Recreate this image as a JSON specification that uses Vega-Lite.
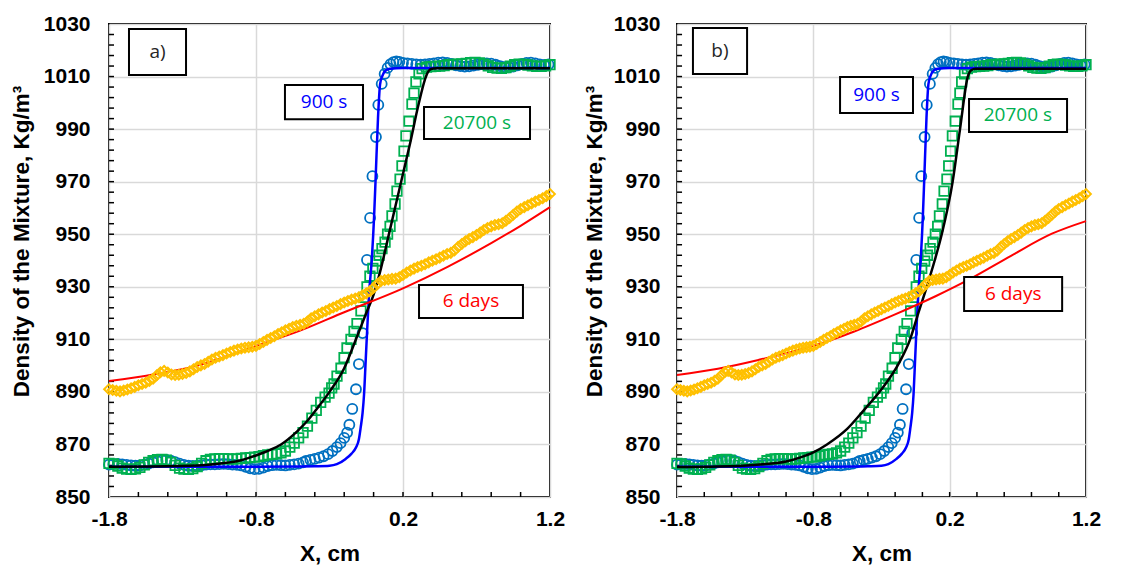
{
  "$schema": "https://vega.github.io/schema/vega-lite/v6.json",
  "padding": {"left": 9, "top": 12, "right": 5, "bottom": 5},
  "spacing": 16,
  "config": {
    "font": "Liberation Sans",
    "view": {"stroke": "black", "strokeWidth": 2}
  },
  "datasets": {
    "xt": [{"x":-1.6,"y":850,"y2":851.9},{"x":-1.4,"y":850,"y2":851.9},{"x":-1.2,"y":850,"y2":851.9},{"x":-1.0,"y":850,"y2":851.9},{"x":-0.8,"y":850,"y2":851.9},{"x":-0.6,"y":850,"y2":851.9},{"x":-0.4,"y":850,"y2":851.9},{"x":-0.2,"y":850,"y2":851.9},{"x":0,"y":850,"y2":851.9},{"x":0.2,"y":850,"y2":851.9},{"x":0.4,"y":850,"y2":851.9},{"x":0.6,"y":850,"y2":851.9},{"x":0.8,"y":850,"y2":851.9},{"x":1.0,"y":850,"y2":851.9}],
    "ytA": [{"x":-1.8,"x2":-1.766,"y":854},{"x":-1.8,"x2":-1.766,"y":858},{"x":-1.8,"x2":-1.766,"y":862},{"x":-1.8,"x2":-1.766,"y":866},{"x":-1.8,"x2":-1.766,"y":870},{"x":-1.8,"x2":-1.766,"y":874},{"x":-1.8,"x2":-1.766,"y":878},{"x":-1.8,"x2":-1.766,"y":882},{"x":-1.8,"x2":-1.766,"y":886},{"x":-1.8,"x2":-1.766,"y":890},{"x":-1.8,"x2":-1.766,"y":894},{"x":-1.8,"x2":-1.766,"y":898},{"x":-1.8,"x2":-1.766,"y":902},{"x":-1.8,"x2":-1.766,"y":906},{"x":-1.8,"x2":-1.766,"y":910},{"x":-1.8,"x2":-1.766,"y":914},{"x":-1.8,"x2":-1.766,"y":918},{"x":-1.8,"x2":-1.766,"y":922},{"x":-1.8,"x2":-1.766,"y":926},{"x":-1.8,"x2":-1.766,"y":930},{"x":-1.8,"x2":-1.766,"y":934},{"x":-1.8,"x2":-1.766,"y":938},{"x":-1.8,"x2":-1.766,"y":942},{"x":-1.8,"x2":-1.766,"y":946},{"x":-1.8,"x2":-1.766,"y":950},{"x":-1.8,"x2":-1.766,"y":954},{"x":-1.8,"x2":-1.766,"y":958},{"x":-1.8,"x2":-1.766,"y":962},{"x":-1.8,"x2":-1.766,"y":966},{"x":-1.8,"x2":-1.766,"y":970},{"x":-1.8,"x2":-1.766,"y":974},{"x":-1.8,"x2":-1.766,"y":978},{"x":-1.8,"x2":-1.766,"y":982},{"x":-1.8,"x2":-1.766,"y":986},{"x":-1.8,"x2":-1.766,"y":990},{"x":-1.8,"x2":-1.766,"y":994},{"x":-1.8,"x2":-1.766,"y":998},{"x":-1.8,"x2":-1.766,"y":1002},{"x":-1.8,"x2":-1.766,"y":1006},{"x":-1.8,"x2":-1.766,"y":1010},{"x":-1.8,"x2":-1.766,"y":1014},{"x":-1.8,"x2":-1.766,"y":1018},{"x":-1.8,"x2":-1.766,"y":1022},{"x":-1.8,"x2":-1.766,"y":1026}],
    "ytB": [{"x":-1.8,"x2":-1.763,"y":854},{"x":-1.8,"x2":-1.763,"y":858},{"x":-1.8,"x2":-1.763,"y":862},{"x":-1.8,"x2":-1.763,"y":866},{"x":-1.8,"x2":-1.763,"y":870},{"x":-1.8,"x2":-1.763,"y":874},{"x":-1.8,"x2":-1.763,"y":878},{"x":-1.8,"x2":-1.763,"y":882},{"x":-1.8,"x2":-1.763,"y":886},{"x":-1.8,"x2":-1.763,"y":890},{"x":-1.8,"x2":-1.763,"y":894},{"x":-1.8,"x2":-1.763,"y":898},{"x":-1.8,"x2":-1.763,"y":902},{"x":-1.8,"x2":-1.763,"y":906},{"x":-1.8,"x2":-1.763,"y":910},{"x":-1.8,"x2":-1.763,"y":914},{"x":-1.8,"x2":-1.763,"y":918},{"x":-1.8,"x2":-1.763,"y":922},{"x":-1.8,"x2":-1.763,"y":926},{"x":-1.8,"x2":-1.763,"y":930},{"x":-1.8,"x2":-1.763,"y":934},{"x":-1.8,"x2":-1.763,"y":938},{"x":-1.8,"x2":-1.763,"y":942},{"x":-1.8,"x2":-1.763,"y":946},{"x":-1.8,"x2":-1.763,"y":950},{"x":-1.8,"x2":-1.763,"y":954},{"x":-1.8,"x2":-1.763,"y":958},{"x":-1.8,"x2":-1.763,"y":962},{"x":-1.8,"x2":-1.763,"y":966},{"x":-1.8,"x2":-1.763,"y":970},{"x":-1.8,"x2":-1.763,"y":974},{"x":-1.8,"x2":-1.763,"y":978},{"x":-1.8,"x2":-1.763,"y":982},{"x":-1.8,"x2":-1.763,"y":986},{"x":-1.8,"x2":-1.763,"y":990},{"x":-1.8,"x2":-1.763,"y":994},{"x":-1.8,"x2":-1.763,"y":998},{"x":-1.8,"x2":-1.763,"y":1002},{"x":-1.8,"x2":-1.763,"y":1006},{"x":-1.8,"x2":-1.763,"y":1010},{"x":-1.8,"x2":-1.763,"y":1014},{"x":-1.8,"x2":-1.763,"y":1018},{"x":-1.8,"x2":-1.763,"y":1022},{"x":-1.8,"x2":-1.763,"y":1026}],
    "circ": [
      {"x":-1.8,"y":862.3},{"x":-1.77,"y":862.5},{"x":-1.74,"y":862.6},{"x":-1.71,"y":862.4},{"x":-1.68,"y":862.2},{"x":-1.65,"y":862.0},{"x":-1.62,"y":861.9},{"x":-1.59,"y":862.0},{"x":-1.56,"y":862.3},{"x":-1.53,"y":862.7},{"x":-1.5,"y":863.2},{"x":-1.47,"y":863.6},{"x":-1.44,"y":864.0},{"x":-1.41,"y":864.1},{"x":-1.38,"y":863.8},{"x":-1.35,"y":863.3},{"x":-1.32,"y":862.7},{"x":-1.29,"y":862.2},{"x":-1.26,"y":861.9},{"x":-1.23,"y":861.8},{"x":-1.2,"y":861.9},{"x":-1.17,"y":862.1},{"x":-1.14,"y":862.3},{"x":-1.11,"y":862.4},{"x":-1.08,"y":862.4},{"x":-1.05,"y":862.5},{"x":-1.02,"y":862.6},{"x":-0.99,"y":862.5},{"x":-0.96,"y":862.3},{"x":-0.93,"y":862.2},{"x":-0.9,"y":862.0},{"x":-0.87,"y":861.5},{"x":-0.84,"y":860.9},{"x":-0.81,"y":860.6},{"x":-0.78,"y":860.7},{"x":-0.75,"y":861.2},{"x":-0.72,"y":861.8},{"x":-0.69,"y":862.1},{"x":-0.66,"y":862.2},{"x":-0.63,"y":862.1},{"x":-0.6,"y":862.0},{"x":-0.57,"y":862.2},{"x":-0.54,"y":862.4},{"x":-0.51,"y":862.7},{"x":-0.48,"y":863.2},{"x":-0.46,"y":863.7},{"x":-0.43,"y":864.1},{"x":-0.4,"y":864.5},{"x":-0.37,"y":865.0},{"x":-0.34,"y":865.5},{"x":-0.31,"y":866.3},{"x":-0.28,"y":867.5},{"x":-0.25,"y":869.0},{"x":-0.225,"y":870.5},{"x":-0.2,"y":872.5},{"x":-0.18,"y":874.5},{"x":-0.165,"y":877.5},{"x":-0.145,"y":883.5},{"x":-0.12,"y":891.0},{"x":-0.1,"y":900.6},{"x":-0.075,"y":912.4},{"x":-0.045,"y":940.2},{"x":-0.024,"y":956.2},{"x":-0.008,"y":972.1},{"x":0.016,"y":987.0},{"x":0.032,"y":999.2},{"x":0.055,"y":1007.2},{"x":0.075,"y":1011.0},{"x":0.095,"y":1013.3},{"x":0.115,"y":1014.7},{"x":0.135,"y":1015.5},{"x":0.155,"y":1015.8},{"x":0.175,"y":1015.6},{"x":0.2,"y":1015.2},{"x":0.23,"y":1015.0},{"x":0.26,"y":1014.8},{"x":0.29,"y":1014.6},{"x":0.32,"y":1014.5},{"x":0.35,"y":1014.6},{"x":0.38,"y":1014.8},{"x":0.41,"y":1015.0},{"x":0.44,"y":1015.3},{"x":0.47,"y":1015.4},{"x":0.5,"y":1015.2},{"x":0.53,"y":1014.8},{"x":0.56,"y":1014.3},{"x":0.59,"y":1014.0},{"x":0.62,"y":1013.8},{"x":0.65,"y":1013.9},{"x":0.68,"y":1014.2},{"x":0.71,"y":1014.5},{"x":0.74,"y":1014.8},{"x":0.77,"y":1015.0},{"x":0.8,"y":1014.9},{"x":0.83,"y":1014.5},{"x":0.86,"y":1014.0},{"x":0.89,"y":1013.6},{"x":0.92,"y":1013.5},{"x":0.95,"y":1013.8},{"x":0.98,"y":1014.3},{"x":1.01,"y":1014.8},{"x":1.04,"y":1015.2},{"x":1.07,"y":1015.3},{"x":1.1,"y":1015.0},{"x":1.13,"y":1014.6},{"x":1.16,"y":1014.4},{"x":1.19,"y":1014.6}
    ],
    "sq": [
      {"x":-1.8,"y":862.8},{"x":-1.77,"y":862.6},{"x":-1.74,"y":861.8},{"x":-1.71,"y":861.0},{"x":-1.68,"y":860.6},{"x":-1.65,"y":860.5},{"x":-1.62,"y":860.7},{"x":-1.59,"y":861.3},{"x":-1.56,"y":862.2},{"x":-1.53,"y":863.2},{"x":-1.5,"y":863.8},{"x":-1.47,"y":864.2},{"x":-1.44,"y":864.3},{"x":-1.41,"y":864.0},{"x":-1.38,"y":863.2},{"x":-1.35,"y":862.0},{"x":-1.32,"y":861.0},{"x":-1.29,"y":860.6},{"x":-1.26,"y":860.5},{"x":-1.23,"y":860.8},{"x":-1.2,"y":861.6},{"x":-1.17,"y":862.8},{"x":-1.14,"y":863.8},{"x":-1.11,"y":864.3},{"x":-1.08,"y":864.5},{"x":-1.05,"y":864.6},{"x":-1.02,"y":864.6},{"x":-0.99,"y":864.5},{"x":-0.96,"y":864.4},{"x":-0.93,"y":864.5},{"x":-0.9,"y":864.7},{"x":-0.87,"y":864.9},{"x":-0.84,"y":865.0},{"x":-0.81,"y":865.2},{"x":-0.78,"y":865.4},{"x":-0.75,"y":865.7},{"x":-0.72,"y":866.0},{"x":-0.69,"y":866.2},{"x":-0.66,"y":866.4},{"x":-0.63,"y":866.8},{"x":-0.6,"y":867.5},{"x":-0.57,"y":869.0},{"x":-0.54,"y":870.5},{"x":-0.51,"y":872.5},{"x":-0.48,"y":874.5},{"x":-0.45,"y":877.0},{"x":-0.42,"y":880.0},{"x":-0.39,"y":883.0},{"x":-0.36,"y":886.0},{"x":-0.33,"y":888.0},{"x":-0.303,"y":889.5},{"x":-0.285,"y":891.5},{"x":-0.269,"y":893.0},{"x":-0.249,"y":896.0},{"x":-0.222,"y":899.0},{"x":-0.201,"y":903.0},{"x":-0.181,"y":906.7},{"x":-0.154,"y":910.0},{"x":-0.133,"y":913.0},{"x":-0.113,"y":916.0},{"x":-0.086,"y":920.8},{"x":-0.065,"y":926.0},{"x":-0.045,"y":930.0},{"x":-0.025,"y":934.0},{"x":-0.005,"y":937.0},{"x":0.017,"y":939.8},{"x":0.037,"y":942.0},{"x":0.057,"y":944.5},{"x":0.078,"y":947.0},{"x":0.095,"y":950.0},{"x":0.112,"y":953.0},{"x":0.125,"y":957.0},{"x":0.146,"y":961.5},{"x":0.159,"y":966.4},{"x":0.18,"y":971.0},{"x":0.193,"y":976.0},{"x":0.207,"y":981.6},{"x":0.22,"y":987.4},{"x":0.241,"y":993.0},{"x":0.261,"y":999.5},{"x":0.275,"y":1003.7},{"x":0.288,"y":1008.0},{"x":0.309,"y":1011.0},{"x":0.33,"y":1013.0},{"x":0.36,"y":1013.6},{"x":0.39,"y":1013.8},{"x":0.42,"y":1013.9},{"x":0.45,"y":1014.0},{"x":0.48,"y":1014.2},{"x":0.51,"y":1014.5},{"x":0.54,"y":1014.6},{"x":0.57,"y":1014.7},{"x":0.6,"y":1014.8},{"x":0.63,"y":1015.0},{"x":0.66,"y":1015.3},{"x":0.69,"y":1015.4},{"x":0.72,"y":1015.2},{"x":0.75,"y":1014.7},{"x":0.78,"y":1014.1},{"x":0.81,"y":1013.5},{"x":0.84,"y":1013.2},{"x":0.87,"y":1013.1},{"x":0.9,"y":1013.4},{"x":0.93,"y":1014.0},{"x":0.96,"y":1014.5},{"x":0.99,"y":1014.7},{"x":1.02,"y":1014.6},{"x":1.05,"y":1014.4},{"x":1.08,"y":1014.1},{"x":1.11,"y":1013.9},{"x":1.14,"y":1013.9},{"x":1.17,"y":1014.1},{"x":1.2,"y":1014.5}
    ],
    "dia": [
      {"x":-1.8,"y":891.0},{"x":-1.775,"y":890.7},{"x":-1.75,"y":890.4},{"x":-1.725,"y":890.2},{"x":-1.7,"y":890.5},{"x":-1.675,"y":890.9},{"x":-1.65,"y":891.4},{"x":-1.625,"y":891.9},{"x":-1.6,"y":892.5},{"x":-1.575,"y":893.0},{"x":-1.55,"y":893.5},{"x":-1.525,"y":894.2},{"x":-1.5,"y":895.0},{"x":-1.475,"y":896.3},{"x":-1.45,"y":897.5},{"x":-1.425,"y":898.0},{"x":-1.4,"y":897.4},{"x":-1.375,"y":896.6},{"x":-1.35,"y":896.4},{"x":-1.325,"y":896.5},{"x":-1.3,"y":896.8},{"x":-1.275,"y":897.2},{"x":-1.25,"y":897.8},{"x":-1.225,"y":898.6},{"x":-1.2,"y":899.5},{"x":-1.175,"y":900.1},{"x":-1.15,"y":900.6},{"x":-1.125,"y":901.5},{"x":-1.1,"y":902.3},{"x":-1.075,"y":903.0},{"x":-1.05,"y":903.5},{"x":-1.025,"y":904.0},{"x":-1.0,"y":904.6},{"x":-0.975,"y":905.2},{"x":-0.95,"y":905.7},{"x":-0.925,"y":906.1},{"x":-0.9,"y":906.5},{"x":-0.875,"y":906.8},{"x":-0.85,"y":907.0},{"x":-0.825,"y":907.2},{"x":-0.8,"y":907.5},{"x":-0.775,"y":908.2},{"x":-0.75,"y":909.0},{"x":-0.725,"y":909.8},{"x":-0.7,"y":910.5},{"x":-0.675,"y":911.2},{"x":-0.65,"y":912.0},{"x":-0.625,"y":912.7},{"x":-0.6,"y":913.4},{"x":-0.575,"y":914.0},{"x":-0.55,"y":914.7},{"x":-0.525,"y":915.2},{"x":-0.5,"y":915.5},{"x":-0.475,"y":915.9},{"x":-0.45,"y":916.8},{"x":-0.425,"y":918.0},{"x":-0.4,"y":918.8},{"x":-0.375,"y":919.5},{"x":-0.35,"y":920.2},{"x":-0.325,"y":920.8},{"x":-0.3,"y":921.5},{"x":-0.275,"y":922.1},{"x":-0.25,"y":922.7},{"x":-0.225,"y":923.4},{"x":-0.2,"y":924.0},{"x":-0.175,"y":924.6},{"x":-0.15,"y":925.1},{"x":-0.125,"y":925.5},{"x":-0.1,"y":926.0},{"x":-0.075,"y":926.8},{"x":-0.05,"y":927.5},{"x":-0.025,"y":928.3},{"x":0.0,"y":929.6},{"x":0.025,"y":931.0},{"x":0.05,"y":932.2},{"x":0.075,"y":932.6},{"x":0.1,"y":932.8},{"x":0.125,"y":933.0},{"x":0.15,"y":933.1},{"x":0.175,"y":933.6},{"x":0.2,"y":934.5},{"x":0.225,"y":935.4},{"x":0.25,"y":936.2},{"x":0.275,"y":936.9},{"x":0.3,"y":937.5},{"x":0.325,"y":938.0},{"x":0.35,"y":938.6},{"x":0.375,"y":939.3},{"x":0.4,"y":939.9},{"x":0.425,"y":940.5},{"x":0.45,"y":941.1},{"x":0.475,"y":941.8},{"x":0.5,"y":942.5},{"x":0.525,"y":942.9},{"x":0.55,"y":943.8},{"x":0.575,"y":945.2},{"x":0.6,"y":946.3},{"x":0.625,"y":947.3},{"x":0.65,"y":948.2},{"x":0.675,"y":948.9},{"x":0.7,"y":949.7},{"x":0.725,"y":950.6},{"x":0.75,"y":951.6},{"x":0.775,"y":952.4},{"x":0.8,"y":953.0},{"x":0.825,"y":953.5},{"x":0.85,"y":953.8},{"x":0.875,"y":954.2},{"x":0.9,"y":955.1},{"x":0.925,"y":956.2},{"x":0.95,"y":957.4},{"x":0.975,"y":958.6},{"x":1.0,"y":959.6},{"x":1.025,"y":960.3},{"x":1.05,"y":961.0},{"x":1.075,"y":961.7},{"x":1.1,"y":962.4},{"x":1.125,"y":963.0},{"x":1.15,"y":963.7},{"x":1.175,"y":964.5},{"x":1.2,"y":965.3}
    ],
    "blue": [
      {"x":-1.8,"y":861.5},{"x":-1.2,"y":861.5},{"x":-0.8,"y":861.5},{"x":-0.5,"y":861.6},{"x":-0.4,"y":861.7},{"x":-0.3,"y":861.9},{"x":-0.25,"y":862.5},{"x":-0.19,"y":864.5},{"x":-0.15,"y":866.5},{"x":-0.12,"y":868.8},{"x":-0.1,"y":872.0},{"x":-0.088,"y":876.4},{"x":-0.075,"y":882.0},{"x":-0.065,"y":889.0},{"x":-0.054,"y":901.7},{"x":-0.043,"y":914.4},{"x":-0.031,"y":927.1},{"x":-0.013,"y":939.8},{"x":0.003,"y":956.3},{"x":0.014,"y":971.5},{"x":0.03,"y":994.3},{"x":0.044,"y":1007.0},{"x":0.059,"y":1010.2},{"x":0.08,"y":1012.2},{"x":0.11,"y":1013.0},{"x":0.2,"y":1013.3},{"x":1.2,"y":1013.3}
    ],
    "blackA": [
      {"x":-1.8,"y":861.5},{"x":-1.5,"y":861.6},{"x":-1.2,"y":862.0},{"x":-1.0,"y":863.0},{"x":-0.9,"y":864.0},{"x":-0.8,"y":865.8},{"x":-0.7,"y":868.0},{"x":-0.63,"y":870.0},{"x":-0.52,"y":875.0},{"x":-0.45,"y":879.0},{"x":-0.38,"y":884.0},{"x":-0.3,"y":890.0},{"x":-0.2,"y":899.0},{"x":-0.12,"y":910.0},{"x":-0.05,"y":920.0},{"x":0.0,"y":927.0},{"x":0.05,"y":937.0},{"x":0.1,"y":949.0},{"x":0.15,"y":961.0},{"x":0.2,"y":973.0},{"x":0.25,"y":985.0},{"x":0.3,"y":998.0},{"x":0.33,"y":1005.0},{"x":0.35,"y":1009.0},{"x":0.37,"y":1011.8},{"x":0.39,"y":1012.9},{"x":0.43,"y":1013.2},{"x":1.2,"y":1013.2}
    ],
    "blackB": [
      {"x":-1.8,"y":861.4},{"x":-1.5,"y":861.6},{"x":-1.17,"y":862.5},{"x":-1.0,"y":863.5},{"x":-0.9,"y":865.0},{"x":-0.8,"y":867.0},{"x":-0.7,"y":870.0},{"x":-0.55,"y":876.0},{"x":-0.435,"y":882.7},{"x":-0.31,"y":890.3},{"x":-0.164,"y":901.7},{"x":-0.09,"y":910.0},{"x":-0.03,"y":920.0},{"x":0.032,"y":930.0},{"x":0.09,"y":940.0},{"x":0.142,"y":950.0},{"x":0.222,"y":970.0},{"x":0.276,"y":990.0},{"x":0.333,"y":1010.0},{"x":0.36,"y":1012.5},{"x":0.39,"y":1013.0},{"x":1.2,"y":1013.0}
    ],
    "redA": [
      {"x":-1.8,"y":894.1},{"x":-1.5,"y":896.6},{"x":-1.2,"y":900.0},{"x":-0.8,"y":907.5},{"x":-0.5,"y":913.3},{"x":-0.2,"y":920.3},{"x":0.2,"y":929.4},{"x":0.5,"y":937.5},{"x":0.8,"y":946.6},{"x":1.0,"y":953.2},{"x":1.2,"y":960.3}
    ],
    "redB": [
      {"x":-1.8,"y":896.4},{"x":-1.5,"y":898.8},{"x":-1.2,"y":902.2},{"x":-0.8,"y":907.5},{"x":-0.5,"y":913.0},{"x":-0.2,"y":919.5},{"x":0.1,"y":926.5},{"x":0.35,"y":933.0},{"x":0.65,"y":941.8},{"x":0.95,"y":950.2},{"x":1.2,"y":955.0}
    ],
    "boxA": [
      {"x":-1.664,"x2":-1.276,"y":1010.6,"y2":1028.1},
      {"x":-0.603,"x2":-0.072,"y":993.8,"y2":1006.8},
      {"x":0.343,"x2":1.064,"y":986.2,"y2":998.4},
      {"x":0.309,"x2":1.016,"y":918.1,"y2":930.7}
    ],
    "lblA": [
      {"x":-1.47,"y":1019.3,"label":"a)"},
      {"x":-0.337,"y":1000.3,"label":"900 s"},
      {"x":0.703,"y":992.3,"label":"20700 s"},
      {"x":0.662,"y":924.4,"label":"6 days"}
    ],
    "boxB": [
      {"x":-1.683,"x2":-1.286,"y":1011.0,"y2":1028.5},
      {"x":-0.604,"x2":-0.069,"y":996.1,"y2":1009.8},
      {"x":0.342,"x2":1.061,"y":988.9,"y2":1001.5},
      {"x":0.306,"x2":1.025,"y":920.8,"y2":933.7}
    ],
    "lblB": [
      {"x":-1.485,"y":1019.8,"label":"b)"},
      {"x":-0.337,"y":1003.0,"label":"900 s"},
      {"x":0.70,"y":995.2,"label":"20700 s"},
      {"x":0.666,"y":927.3,"label":"6 days"}
    ]
  },
  "hconcat": [
    {
      "width": 441,
      "height": 473,
      "encoding": {
        "x": {"field": "x", "type": "quantitative", "scale": {"domain": [-1.8, 1.2], "nice": false, "zero": false},
          "axis": {"title": "X, cm", "values": [-1.8, -0.8, 0.2, 1.2], "format": ".1f", "labelExpr": "replace(datum.label, '−', '-')",
            "grid": true, "gridColor": "#d9d9d9", "gridWidth": 1.5,
            "domain": false, "ticks": false, "labelFlush": false, "labelOverlap": false,
            "labelFont": "Liberation Sans", "labelFontSize": 21, "labelFontWeight": "bold", "labelColor": "black", "labelPadding": 11,
            "titleFont": "Liberation Sans", "titleFontSize": 22.5, "titleFontWeight": "bold", "titleColor": "black", "titlePadding": 13}},
        "y": {"field": "y", "type": "quantitative", "scale": {"domain": [850, 1030], "nice": false, "zero": false},
          "axis": {"title": "Density of the Mixture, Kg/m³", "format": "d", "values": [850, 870, 890, 910, 930, 950, 970, 990, 1010, 1030],
            "grid": true, "gridColor": "#d9d9d9", "gridWidth": 1.5,
            "domain": false, "ticks": false, "labelFlush": false, "labelOverlap": false,
            "labelFont": "Liberation Sans", "labelFontSize": 21, "labelFontWeight": "bold", "labelColor": "black", "labelPadding": 19,
            "titleFont": "Liberation Sans", "titleFontSize": 22.5, "titleFontWeight": "bold", "titleColor": "black", "titlePadding": 10, "titleY": 217}}
      },
      "layer": [
        {"data": {"name": "xt"}, "mark": {"type": "rule", "color": "black", "strokeWidth": 1.5}, "encoding": {"y2": {"field": "y2"}}},
        {"data": {"name": "ytA"}, "mark": {"type": "rule", "color": "black", "strokeWidth": 1.5}, "encoding": {"x2": {"field": "x2"}}},
        {"data": {"name": "circ"}, "mark": {"type": "point", "shape": "circle", "filled": false, "size": 100, "strokeWidth": 1.8, "color": "#0070C0", "opacity": 1}},
        {"data": {"name": "sq"}, "mark": {"type": "point", "shape": "square", "filled": false, "size": 90, "strokeWidth": 1.8, "color": "#00B050", "opacity": 1}},
        {"data": {"name": "blue"}, "mark": {"type": "line", "color": "#0000FF", "strokeWidth": 2.5, "interpolate": "monotone"}},
        {"data": {"name": "blackA"}, "mark": {"type": "line", "color": "black", "strokeWidth": 2.5, "interpolate": "monotone"}},
        {"data": {"name": "redA"}, "mark": {"type": "line", "color": "#FF0000", "strokeWidth": 2, "interpolate": "monotone"}},
        {"data": {"name": "dia"}, "mark": {"type": "point", "shape": "diamond", "filled": false, "size": 95, "strokeWidth": 2, "color": "#FFC000", "opacity": 1}},
        {"data": {"name": "boxA"}, "mark": {"type": "rect", "fill": "white", "stroke": "black", "strokeWidth": 2},
          "encoding": {"x2": {"field": "x2"}, "y2": {"field": "y2"}}},
        {"data": {"name": "lblA"}, "mark": {"type": "text", "font": "Open Sans", "fontSize": 19, "align": "center", "baseline": "middle"},
          "encoding": {
            "text": {"field": "label"},
            "color": {"field": "label", "type": "nominal", "scale": {"domain": ["a)", "b)", "900 s", "20700 s", "6 days"], "range": ["#262626", "#262626", "#0000FF", "#00B050", "#FF0000"]}, "legend": null}
          }}
      ]
    },
    {
      "width": 409,
      "height": 473,
      "encoding": {
        "x": {"field": "x", "type": "quantitative", "scale": {"domain": [-1.8, 1.2], "nice": false, "zero": false},
          "axis": {"title": "X, cm", "values": [-1.8, -0.8, 0.2, 1.2], "format": ".1f", "labelExpr": "replace(datum.label, '−', '-')",
            "grid": true, "gridColor": "#d9d9d9", "gridWidth": 1.5,
            "domain": false, "ticks": false, "labelFlush": false, "labelOverlap": false,
            "labelFont": "Liberation Sans", "labelFontSize": 21, "labelFontWeight": "bold", "labelColor": "black", "labelPadding": 11,
            "titleFont": "Liberation Sans", "titleFontSize": 22.5, "titleFontWeight": "bold", "titleColor": "black", "titlePadding": 13}},
        "y": {"field": "y", "type": "quantitative", "scale": {"domain": [850, 1030], "nice": false, "zero": false},
          "axis": {"title": "Density of the Mixture, Kg/m³", "format": "d", "values": [850, 870, 890, 910, 930, 950, 970, 990, 1010, 1030],
            "grid": true, "gridColor": "#d9d9d9", "gridWidth": 1.5,
            "domain": false, "ticks": false, "labelFlush": false, "labelOverlap": false,
            "labelFont": "Liberation Sans", "labelFontSize": 21, "labelFontWeight": "bold", "labelColor": "black", "labelPadding": 17,
            "titleFont": "Liberation Sans", "titleFontSize": 22.5, "titleFontWeight": "bold", "titleColor": "black", "titlePadding": 7, "titleY": 217}}
      },
      "layer": [
        {"data": {"name": "xt"}, "mark": {"type": "rule", "color": "black", "strokeWidth": 1.5}, "encoding": {"y2": {"field": "y2"}}},
        {"data": {"name": "ytB"}, "mark": {"type": "rule", "color": "black", "strokeWidth": 1.5}, "encoding": {"x2": {"field": "x2"}}},
        {"data": {"name": "circ"}, "mark": {"type": "point", "shape": "circle", "filled": false, "size": 100, "strokeWidth": 1.8, "color": "#0070C0", "opacity": 1}},
        {"data": {"name": "sq"}, "mark": {"type": "point", "shape": "square", "filled": false, "size": 90, "strokeWidth": 1.8, "color": "#00B050", "opacity": 1}},
        {"data": {"name": "blue"}, "mark": {"type": "line", "color": "#0000FF", "strokeWidth": 2.5, "interpolate": "monotone"}},
        {"data": {"name": "blackB"}, "mark": {"type": "line", "color": "black", "strokeWidth": 2.5, "interpolate": "monotone"}},
        {"data": {"name": "redB"}, "mark": {"type": "line", "color": "#FF0000", "strokeWidth": 2, "interpolate": "monotone"}},
        {"data": {"name": "dia"}, "mark": {"type": "point", "shape": "diamond", "filled": false, "size": 95, "strokeWidth": 2, "color": "#FFC000", "opacity": 1}},
        {"data": {"name": "boxB"}, "mark": {"type": "rect", "fill": "white", "stroke": "black", "strokeWidth": 2},
          "encoding": {"x2": {"field": "x2"}, "y2": {"field": "y2"}}},
        {"data": {"name": "lblB"}, "mark": {"type": "text", "font": "Open Sans", "fontSize": 19, "align": "center", "baseline": "middle"},
          "encoding": {
            "text": {"field": "label"},
            "color": {"field": "label", "type": "nominal", "scale": {"domain": ["a)", "b)", "900 s", "20700 s", "6 days"], "range": ["#262626", "#262626", "#0000FF", "#00B050", "#FF0000"]}, "legend": null}
          }}
      ]
    }
  ]
}
